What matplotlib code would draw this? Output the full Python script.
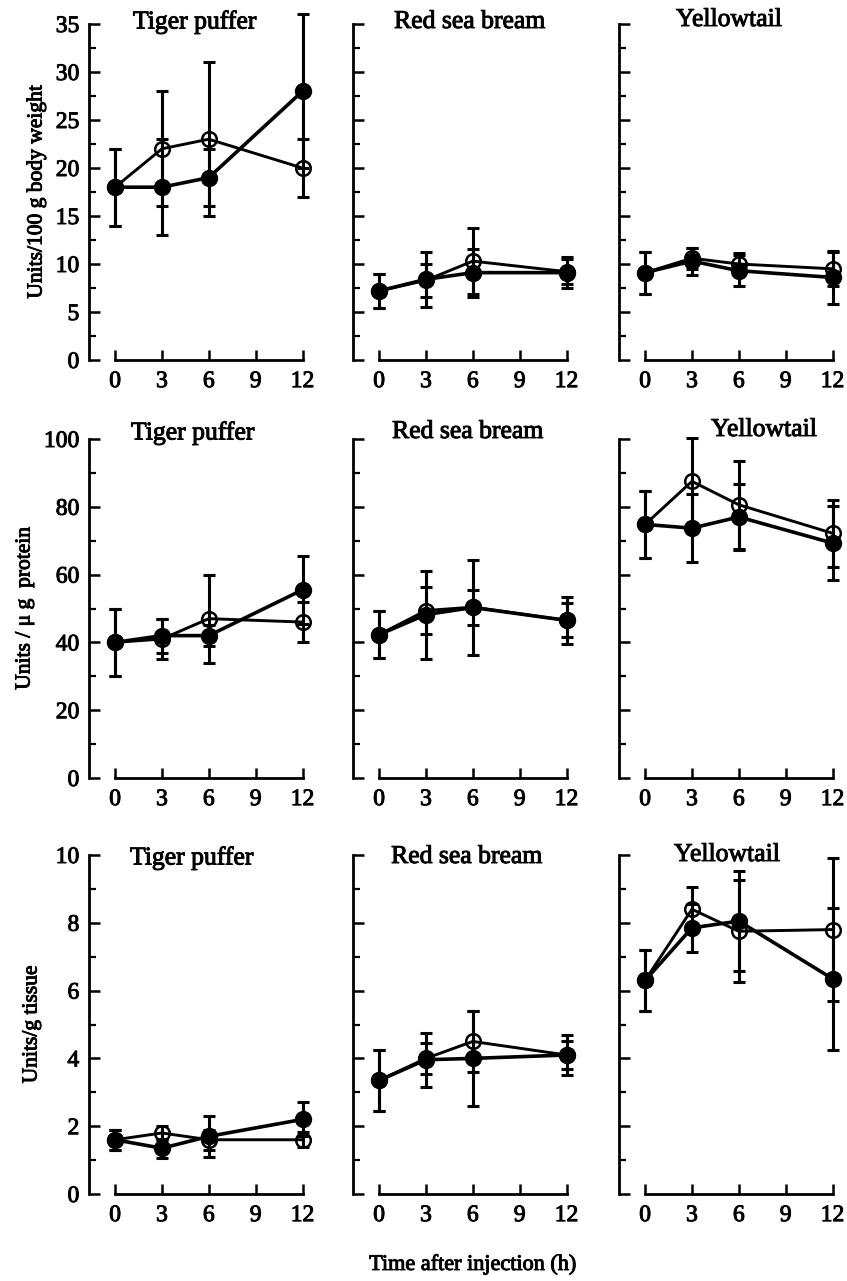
"""Enzyme activity after injection in three fish species (3x3 panels)."""

import matplotlib

matplotlib.use("Agg")
import matplotlib.pyplot as plt  # noqa: E402
import matplotlib.patheffects as pe  # noqa: E402
from matplotlib.text import Text  # noqa: E402
from matplotlib.ticker import MultipleLocator  # noqa: E402

plt.rcParams["font.family"] = ["Liberation Serif", "DejaVu Serif"]

times = [0, 3, 6, 12]
species = ["Tiger puffer", "Red sea bream", "Yellowtail"]
row_labels = ["Units/100 g body weight", "Units / \u03bc g  protein", "Units/g tissue"]
x_label = "Time after injection (h)"

# row 1: units / 100 g body weight
tp_body_filled = [18, 18, 19, 28]
tp_body_filled_err = [4, 5, 3, 8]
tp_body_open = [18, 22, 23, 20]
tp_body_open_err = [4, 6, 8, 3]
rsb_body_filled = [7.2, 8.4, 9.1, 9.1]
rsb_body_filled_err = [1.8, 2.9, 2.5, 1.6]
rsb_body_open = [7.2, 8.3, 10.3, 9.2]
rsb_body_open_err = [1.8, 1.7, 3.4, 1.3]
yt_body_filled = [9.1, 10.3, 9.3, 8.6]
yt_body_filled_err = [2.2, 1.4, 1.6, 2.8]
yt_body_open = [9.1, 10.6, 10.0, 9.5]
yt_body_open_err = [2.2, 1.1, 1.1, 1.8]

# row 2: units / ug protein
tp_prot_filled = [40, 42, 42, 55.5]
tp_prot_filled_err = [10, 5, 3, 10]
tp_prot_open = [40, 41, 47, 46]
tp_prot_open_err = [10, 6, 13, 6]
rsb_prot_filled = [42.3, 48.2, 50.3, 46.5]
rsb_prot_filled_err = [7, 13, 14, 7]
rsb_prot_open = [42.3, 49.4, 50.4, 46.5]
rsb_prot_open_err = [7, 7, 5.2, 5]
yt_prot_filled = [74.8, 73.7, 77.0, 69.3]
yt_prot_filled_err = [10, 10, 9.8, 11]
yt_prot_open = [74.8, 87.5, 80.6, 72.2]
yt_prot_open_err = [10, 12.8, 13, 9.9]

# row 3: units / g tissue
tp_tis_filled = [1.6, 1.35, 1.7, 2.2]
tp_tis_filled_err = [0.3, 0.28, 0.6, 0.5]
tp_tis_open = [1.6, 1.8, 1.6, 1.6]
tp_tis_open_err = [0.3, 0.2, 0.3, 0.22]
rsb_tis_filled = [3.35, 3.96, 4.0, 4.1]
rsb_tis_filled_err = [0.9, 0.8, 1.4, 0.58]
rsb_tis_open = [3.35, 4.0, 4.5, 4.1]
rsb_tis_open_err = [0.9, 0.45, 0.9, 0.4]
yt_tis_filled = [6.3, 7.85, 8.05, 6.35]
yt_tis_filled_err = [0.9, 0.7, 1.47, 2.1]
yt_tis_open = [6.3, 8.4, 7.75, 7.8]
yt_tis_open_err = [0.9, 0.65, 1.5, 2.1]

row_ylims = [35, 100, 10]
row_major = [5, 20, 2]
row_minor = [2.5, 10, 1]

panels = [
    [
        (tp_body_filled, tp_body_filled_err, tp_body_open, tp_body_open_err),
        (rsb_body_filled, rsb_body_filled_err, rsb_body_open, rsb_body_open_err),
        (yt_body_filled, yt_body_filled_err, yt_body_open, yt_body_open_err),
    ],
    [
        (tp_prot_filled, tp_prot_filled_err, tp_prot_open, tp_prot_open_err),
        (rsb_prot_filled, rsb_prot_filled_err, rsb_prot_open, rsb_prot_open_err),
        (yt_prot_filled, yt_prot_filled_err, yt_prot_open, yt_prot_open_err),
    ],
    [
        (tp_tis_filled, tp_tis_filled_err, tp_tis_open, tp_tis_open_err),
        (rsb_tis_filled, rsb_tis_filled_err, rsb_tis_open, rsb_tis_open_err),
        (yt_tis_filled, yt_tis_filled_err, yt_tis_open, yt_tis_open_err),
    ],
]

W, H = 847, 1281
fig = plt.figure(figsize=(W / 100, H / 100), dpi=100)

# layout in pixels
col_left = [89, 353, 619]
col_width = 226
row_top = [24, 439, 855]
row_bottom = [360, 778, 1194]
title_pos = [
    [(195, 22), (470, 22), (729, 20)],
    [(193, 433), (468, 432), (764, 430)],
    [(192, 858), (467, 857), (727, 855)],
]
ylabel_x = [37, 25, 32]


def fx(px):
    return px / W


def fy(py):
    return 1 - py / H


def draw_panel(ax, filled, filled_err, hollow, hollow_err, ytop, major, minor, show_labels):
    ekw = dict(fmt="none", ecolor="black", elinewidth=2.2, capsize=4.6, capthick=2.2,
               clip_on=False, zorder=2)
    ax.errorbar(times, hollow, yerr=hollow_err, **ekw)
    ax.errorbar(times, filled, yerr=filled_err, **ekw)
    ax.plot(times, hollow, color="black", lw=2.1, zorder=2, clip_on=False)
    ax.plot(times, filled, color="black", lw=2.6, zorder=2, clip_on=False)
    ax.plot(times, hollow, ls="none", marker="o", ms=10.5, mfc="none", mec="black",
            mew=1.8, zorder=3, clip_on=False)
    ax.plot(times, filled, ls="none", marker="o", ms=11.5, mfc="black", mec="black",
            zorder=4, clip_on=False)

    ax.set_xlim(-1.67, 12.8)
    ax.set_ylim(0, ytop)
    for side in ("top", "right"):
        ax.spines[side].set_visible(False)
    ax.spines["bottom"].set_bounds(0, 12)
    ax.spines["left"].set_bounds(0, ytop)
    for side in ("bottom", "left"):
        ax.spines[side].set_linewidth(2.0)

    ax.set_xticks([0, 3, 6, 9, 12])
    ax.yaxis.set_major_locator(MultipleLocator(major))
    ax.yaxis.set_minor_locator(MultipleLocator(minor))
    ax.tick_params(axis="x", direction="in", length=7.5, width=1.8, labelsize=17, pad=8)
    ax.tick_params(axis="y", which="major", direction="in", length=8, width=1.8,
                   labelsize=17, pad=7)
    ax.tick_params(axis="y", which="minor", direction="in", length=5, width=1.6)
    if not show_labels:
        ax.tick_params(axis="y", labelleft=False)


for r in range(3):
    for c in range(3):
        ax = fig.add_axes([
            fx(col_left[c]),
            fy(row_bottom[r]),
            col_width / W,
            (row_bottom[r] - row_top[r]) / H,
        ])
        filled, filled_err, hollow, hollow_err = panels[r][c]
        draw_panel(ax, filled, filled_err, hollow, hollow_err,
                   row_ylims[r], row_major[r], row_minor[r], c == 0)
        tx, ty = title_pos[r][c]
        fig.text(fx(tx), fy(ty), species[c], ha="center", va="center", fontsize=18.5)

    yc = (row_top[r] + row_bottom[r]) / 2
    fig.text(fx(ylabel_x[r]), fy(yc), row_labels[r], rotation=90,
             ha="center", va="center", fontsize=15.5)

fig.text(fx(473), fy(1265), x_label, ha="center", va="center", fontsize=16)

# the scan prints heavier than a plain regular face
for t in fig.findobj(Text):
    t.set_path_effects([pe.withStroke(linewidth=0.7, foreground="black")])

fig.savefig("out.png", dpi=100)
plt.close(fig)
